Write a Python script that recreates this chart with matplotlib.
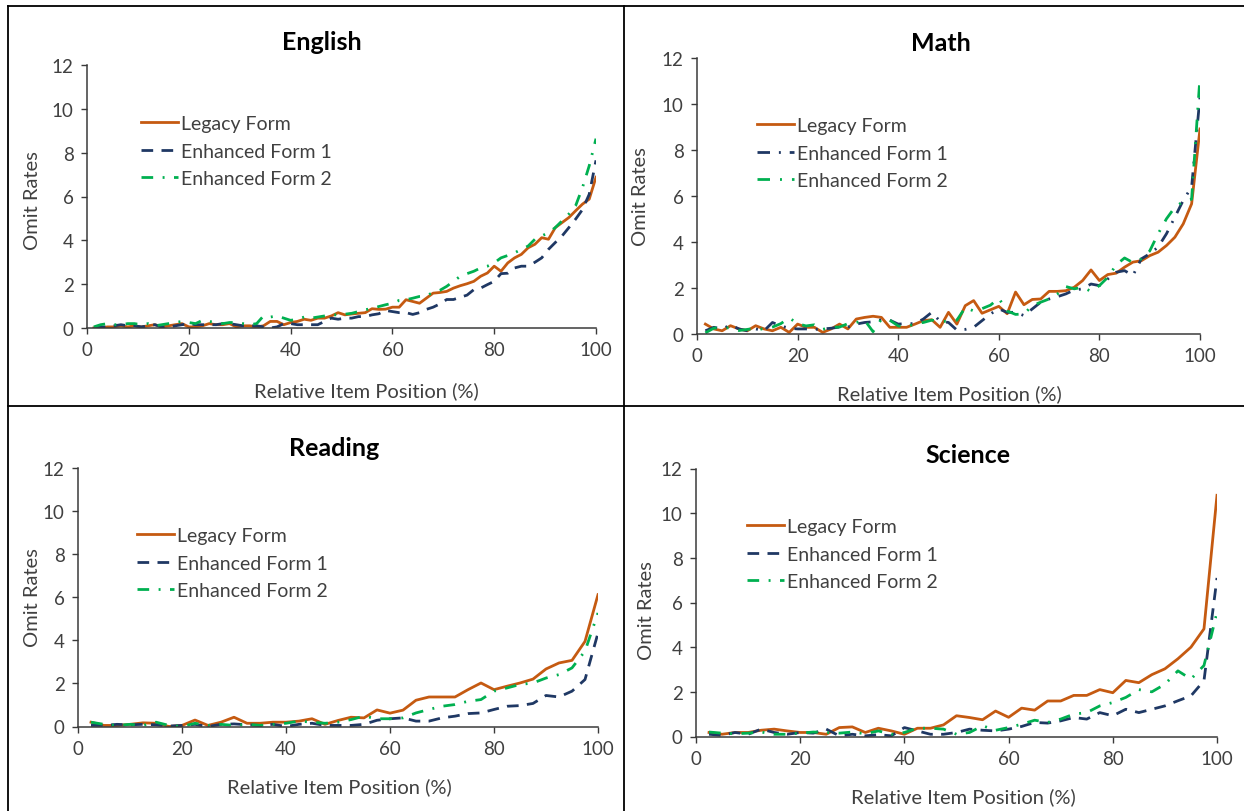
import numpy as np
import matplotlib
matplotlib.use("Agg")
import matplotlib.pyplot as plt
from matplotlib.lines import Line2D

# ---------------- data ----------------
series_names = ["Legacy Form", "Enhanced Form 1", "Enhanced Form 2"]
panel_titles = ["English", "Math", "Reading", "Science"]
x_ticks = [0, 20, 40, 60, 80, 100]
y_ticks = [0, 2, 4, 6, 8, 10, 12]
x_label = "Relative Item Position (%)"
y_label = "Omit Rates"

english_legacy = [0.0, 0.0, 0.05, 0.05, 0.1, 0.05, 0.1, 0.05, 0.1, 0.15,
                  0.05, 0.1, 0.15, 0.2, 0.05, 0.05, 0.1, 0.2, 0.15, 0.15,
                  0.2, 0.05, 0.1, 0.1, 0.05, 0.1, 0.3, 0.3, 0.15, 0.25,
                  0.3, 0.4, 0.35, 0.45, 0.45,
                  0.55, 0.7, 0.6, 0.64, 0.67, 0.7, 0.88, 0.85, 0.86, 0.95,
                  0.95, 1.29, 1.21, 1.13, 1.36, 1.59, 1.62, 1.67, 1.82, 1.93,
                  2.02, 2.13, 2.36, 2.51, 2.82, 2.59, 2.97, 3.2, 3.36, 3.66,
                  3.82, 4.12, 4.05, 4.58, 4.81, 5.04, 5.35, 5.65, 5.88, 6.88]
english_ef1 = [0.0, 0.05, 0.05, 0.1, 0.15, 0.1, 0.1, 0.05, 0.1, 0.15,
               0.05, 0.05, 0.1, 0.15, 0.2, 0.15, 0.15, 0.15, 0.15, 0.2,
               0.2, 0.15, 0.1, 0.1, 0.1, 0.05, 0.0, 0.05, 0.2, 0.2,
               0.15, 0.15, 0.15, 0.15, 0.3,
               0.45, 0.4, 0.45, 0.45, 0.52, 0.52, 0.6, 0.65, 0.8, 0.75,
               0.7, 0.7, 0.62, 0.7, 0.85, 0.95, 1.1, 1.3, 1.3, 1.4,
               1.5, 1.75, 1.82, 1.98, 2.13, 2.48, 2.5, 2.74, 2.82, 2.82,
               3.0, 3.2, 3.59, 3.9, 4.2, 4.58, 4.97, 5.4, 6.1, 7.65]
english_ef2 = [0.05, 0.15, 0.2, 0.15, 0.15, 0.2, 0.2, 0.15, 0.2, 0.1,
               0.15, 0.2, 0.25, 0.3, 0.25, 0.2, 0.35, 0.3, 0.25, 0.2,
               0.25, 0.25, 0.2, 0.15, 0.2, 0.55, 0.5, 0.55, 0.45, 0.35,
               0.4, 0.5, 0.45, 0.5, 0.55,
               0.6, 0.6, 0.63, 0.67, 0.75, 0.83, 0.9, 0.98, 1.06, 1.13,
               1.26, 1.29, 1.36, 1.44, 1.47, 1.62, 1.72, 1.9, 2.13, 2.36,
               2.48, 2.59, 2.74, 2.82, 2.97, 3.2, 3.31, 3.43, 3.59, 3.74,
               4.05, 4.2, 4.35, 4.58, 4.89, 5.2, 5.58, 6.4, 7.4, 8.64]

math_legacy = [0.43, 0.22, 0.14, 0.36, 0.22, 0.14, 0.36, 0.22, 0.14, 0.29,
               0.07, 0.43, 0.29, 0.29, 0.07, 0.22, 0.43, 0.22, 0.65, 0.72,
               0.77, 0.72, 0.29, 0.29, 0.29, 0.43, 0.58, 0.62, 0.29, 0.94,
               0.43, 1.23, 1.45, 0.9, 1.05, 1.2, 0.88, 1.82, 1.27, 1.5,
               1.52, 1.85, 1.85, 1.88, 2.03, 2.32, 2.78, 2.32, 2.58, 2.64,
               2.9, 3.12, 3.18, 3.4, 3.55, 3.84, 4.2, 4.78, 5.65, 8.9]
math_ef1 = [0.14, 0.29, 0.22, 0.39, 0.22, 0.14, 0.22, 0.14, 0.5, 0.35,
            0.25, 0.22, 0.22, 0.2, 0.22, 0.25, 0.3, 0.3, 0.43, 0.5,
            0.53, 0.62, 0.6, 0.43, 0.45, 0.45, 0.65, 0.94, 0.55, 0.5,
            0.17, 0.2, 0.29, 0.58, 0.87, 1.09, 0.94, 0.94, 0.8, 1.09,
            1.38, 1.52, 1.62, 1.74, 1.91, 1.96, 2.17, 2.1, 2.39, 2.68,
            2.75, 2.54, 3.26, 3.48, 3.77, 4.35, 5.07, 5.8, 6.38, 10.3]
math_ef2 = [0.05, 0.25, 0.3, 0.25, 0.15, 0.2, 0.25, 0.2, 0.3, 0.45,
            0.7, 0.45, 0.35, 0.4, 0.2, 0.3, 0.3, 0.45, 0.5, 0.6,
            0.1, 0.65, 0.6, 0.35, 0.3, 0.45, 0.5, 0.6, 0.55, 0.55,
            0.6, 1.15, 1.0, 1.1, 1.25, 1.55, 1.0, 0.85, 0.87, 1.23,
            1.38, 1.52, 1.74, 2.06, 1.96, 2.03, 1.85, 2.1, 2.46, 3.0,
            3.3, 3.1, 3.26, 3.6, 4.35, 5.0, 5.5, 5.75, 5.85, 11.16]

reading_legacy = [0.2, 0.05, 0.05, 0.1, 0.17, 0.15, 0.0, 0.05, 0.3, 0.05,
                  0.2, 0.43, 0.15, 0.15, 0.2, 0.2, 0.25, 0.36, 0.1, 0.28,
                  0.43, 0.4, 0.77, 0.62, 0.76, 1.22, 1.37, 1.37, 1.37, 1.71,
                  2.02, 1.71, 1.87, 2.02, 2.2, 2.67, 2.95, 3.07, 3.95, 6.12]
reading_ef1 = [0.05, 0.05, 0.1, 0.08, 0.1, 0.08, 0.02, 0.05, 0.1, 0.0,
               0.1, 0.12, 0.08, 0.05, 0.1, 0.0, 0.1, 0.15, 0.05, 0.05,
               0.05, 0.1, 0.29, 0.36, 0.4, 0.25, 0.25, 0.4, 0.48, 0.6,
               0.63, 0.79, 0.94, 0.97, 1.07, 1.44, 1.37, 1.64, 2.18, 4.34]
reading_ef2 = [0.2, 0.1, 0.05, 0.1, 0.05, 0.2, 0.05, 0.0, 0.15, 0.05,
               0.1, 0.05, 0.1, 0.05, 0.1, 0.15, 0.25, 0.2, 0.15, 0.2,
               0.32, 0.48, 0.36, 0.36, 0.4, 0.63, 0.79, 0.94, 1.02, 1.17,
               1.25, 1.64, 1.79, 1.95, 2.02, 2.25, 2.41, 2.72, 3.5, 5.27]

science_legacy = [0.18, 0.1, 0.18, 0.18, 0.28, 0.33, 0.25, 0.18, 0.18, 0.1,
                  0.4, 0.43, 0.18, 0.37, 0.25, 0.1, 0.37, 0.37, 0.52, 0.93,
                  0.85, 0.75, 1.14, 0.86, 1.27, 1.18, 1.59, 1.59, 1.84, 1.84,
                  2.1, 1.96, 2.51, 2.41, 2.77, 3.03, 3.48, 4.0, 4.82, 10.8]
science_ef1 = [0.1, 0.05, 0.18, 0.1, 0.33, 0.18, 0.1, 0.18, 0.15, 0.33,
               0.03, 0.1, 0.03, 0.08, 0.03, 0.4, 0.25, 0.1, 0.1, 0.18,
               0.33, 0.28, 0.25, 0.33, 0.45, 0.63, 0.6, 0.7, 0.85, 0.78,
               1.07, 0.93, 1.22, 1.07, 1.22, 1.37, 1.6, 1.82, 2.5, 7.1]
science_ef2 = [0.2, 0.15, 0.12, 0.15, 0.2, 0.1, 0.1, 0.15, 0.2, 0.18,
               0.15, 0.2, 0.12, 0.25, 0.1, 0.18, 0.37, 0.37, 0.33, 0.1,
               0.18, 0.48, 0.28, 0.4, 0.55, 0.73, 0.63, 0.78, 1.0, 1.07,
               1.37, 1.52, 1.75, 2.1, 2.0, 2.34, 2.94, 2.57, 3.18, 5.56]

# ---------------- style ----------------
W, H = 1244, 812
plt.rcParams['font.family'] = ['Lato', 'DejaVu Sans']
C_ORANGE = '#C55A11'
C_NAVY = '#1F3864'
C_GREEN = '#00B050'
TXT = '#404040'

fig = plt.figure(figsize=(W / 100, H / 100), dpi=100)
fig.patch.set_facecolor('white')


def fx(px):
    return px / W


def fy(py):
    return 1 - py / H


# panel layout: (x0, x1, ytop, ybot) of plotting area in pixels
panels = [
    dict(name=panel_titles[0], data=(english_legacy, english_ef1, english_ef2),
         box=(87, 596, 66, 329), title=(322, 50), xlab=(366, 391), ylab=(32, 201),
         leg=(141, 125), ef1=(0, (4.2, 3.0)), ef2=(0, (4.2, 3.4, 0.7, 3.4))),
    dict(name=panel_titles[1], data=(math_legacy, math_ef1, math_ef2),
         box=(697, 1200, 58.5, 335), title=(941, 51), xlab=(949, 394), ylab=(641, 197),
         leg=(757, 127), ef1=(0, (4.5, 3.2, 0.7, 3.2)), ef2=(0, (4.5, 3.6, 0.7, 3.6))),
    dict(name=panel_titles[2], data=(reading_legacy, reading_ef1, reading_ef2),
         box=(78, 598, 469, 727.5), title=(334, 456), xlab=(339, 787), ylab=(32, 598),
         leg=(137, 537), ef1=(0, (4.2, 3.0)), ef2=(0, (4.2, 3.4, 0.7, 3.4))),
    dict(name=panel_titles[3], data=(science_legacy, science_ef1, science_ef2),
         box=(696, 1217, 469.5, 737.5), title=(968, 463), xlab=(963, 797), ylab=(647, 611),
         leg=(747, 528), ef1=(0, (4.2, 3.0)), ef2=(0, (4.2, 3.4, 0.7, 3.4))),
]

LW = 2.0
for p in panels:
    x0, x1, yt, yb = p['box']
    ax = fig.add_axes([fx(x0), fy(yb), fx(x1 - x0), (yb - yt) / H])
    legacy, ef1, ef2 = p['data']
    n = len(legacy)
    xs = np.arange(1, n + 1) * 100.0 / n
    l1, = ax.plot(xs, legacy, color=C_ORANGE, lw=LW, solid_joinstyle='round')
    l2, = ax.plot(xs, ef1, color=C_NAVY, lw=LW, linestyle=p['ef1'])
    l3, = ax.plot(xs, ef2, color=C_GREEN, lw=LW, linestyle=p['ef2'])
    ax.set_xlim(0, 100)
    ax.set_ylim(0, 12)
    ax.set_xticks(x_ticks)
    ax.set_yticks(y_ticks)
    for s in ['top', 'right']:
        ax.spines[s].set_visible(False)
    for s in ['left', 'bottom']:
        ax.spines[s].set_color('#3a3a3a')
        ax.spines[s].set_linewidth(1.1)
    ax.tick_params(axis='both', direction='out', length=4.5, width=1.0,
                   color='#3a3a3a', labelsize=13.5, labelcolor=TXT, pad=5)
    ax.patch.set_alpha(0)

    fig.text(fx(p['title'][0]), fy(p['title'][1]), p['name'], ha='center',
             va='baseline', fontsize=18, fontweight='bold', color='black')
    fig.text(fx(p['xlab'][0]), fy(p['xlab'][1]), x_label, ha='center',
             va='center', fontsize=14.5, color=TXT)
    fig.text(fx(p['ylab'][0]), fy(p['ylab'][1]), y_label, ha='center',
             va='center', rotation=90, fontsize=14.5, color=TXT)

    lx, ly = p['leg']
    fs = 14
    fs_px = fs * 100 / 72
    leg = ax.legend([l1, l2, l3], series_names, loc='upper left',
                    bbox_to_anchor=(fx(lx), fy(ly - fs_px * 0.45)),
                    bbox_transform=fig.transFigure, frameon=False,
                    fontsize=fs, borderpad=0, borderaxespad=0,
                    handlelength=37 / fs_px, handletextpad=3 / fs_px,
                    labelspacing=0.53)
    for t in leg.get_texts():
        t.set_color(TXT)

# panel borders
bc = 'black'
blw = 1.3
fig.add_artist(Line2D([fx(8), fx(8)], [fy(7), fy(812)], color=bc, lw=blw))
fig.add_artist(Line2D([fx(8), fx(1244)], [fy(7), fy(7)], color=bc, lw=blw))
fig.add_artist(Line2D([fx(624.5), fx(624.5)], [fy(7), fy(812)], color=bc, lw=blw))
fig.add_artist(Line2D([fx(8), fx(1244)], [fy(407), fy(407)], color=bc, lw=blw))

fig.savefig('out.png', dpi=100, facecolor='white')
